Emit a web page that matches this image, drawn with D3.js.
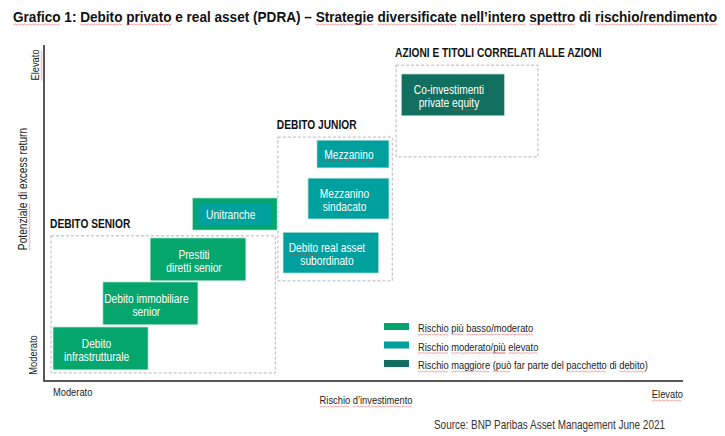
<!DOCTYPE html>
<html>
<head>
<meta charset="utf-8">
<script src="https://cdn.jsdelivr.net/npm/d3@7"></script>
<style>
  body { margin: 0; background: #fff; }
  svg { display: block; }
  text { font-family: "Liberation Sans Narrow", "Arial Narrow", "Liberation Sans", Arial, sans-serif; }
</style>
</head>
<body>
<svg id="chart" width="725" height="436"></svg>
<script>
"use strict";

const width = 725
const height = 436
// the original uses a narrow face, so plain Arial-like text is squeezed sideways
const narrow = 0.85

// risk (x) and excess return (y) on a 0-100 scale
const categories = ["low", "mid", "high"]
const categoryColors = ["#05a66d", "#00a09e", "#126f5f"]
const legendLabels = [
    "Rischio più basso/moderato",
    "Rischio moderato/più elevato",
    "Rischio maggiore (può far parte del pacchetto di debito)"
]

const boxNames = [
    ["Debito", "infrastrutturale"],
    ["Debito immobiliare", "senior"],
    ["Prestiti", "diretti senior"],
    ["Unitranche"],
    ["Mezzanino"],
    ["Mezzanino", "sindacato"],
    ["Debito real asset", "subordinato"],
    ["Co-investimenti", "private equity"]
]
const boxCategory = ["low", "low", "low", "low", "mid", "mid", "mid", "high"]
const boxRisk = [[1.4, 16.3], [9.2, 24.1], [16.6, 31.6], [23.2, 36.5], [42.7, 54.0], [41.3, 54.0], [37.4, 52.4], [55.9, 72.1]]
const boxReturn = [[3.3, 16.1], [16.7, 29.5], [29.8, 42.6], [44.9, 54.5], [63.4, 71.7], [48.2, 60.4], [32.1, 44.3], [78.9, 91.4]]

const groupNames = ["DEBITO SENIOR", "DEBITO JUNIOR", "AZIONI E TITOLI CORRELATI ALLE AZIONI"]
const groupRisk = [[1.1, 36.2], [36.6, 54.5], [55.1, 77.3]]
const groupReturn = [[2.4, 43.2], [29.8, 72.6], [66.7, 94.0]]

const axisEnds = ["Moderato", "Elevato"]

// words carrying the spell-check squiggle in the original screenshot
const flaggedWords = ["Grafico", "Debito", "privato", "Strategie", "diversificate", "nell’intero", "spettro",
    "rischio/rendimento", "infrastrutturale", "immobiliare", "Prestiti", "diretti", "Mezzanino", "sindacato",
    "subordinato", "investimenti", "private", "equity", "Rischio", "più", "basso/moderato", "moderato/più",
    "elevato", "maggiore", "(può", "pacchetto", "debito)", "Potenziale", "Elevato", "d’investimento"]

const svg = d3.select("#chart")

const x = d3.scaleLinear().domain([0, 100]).range([44, 683])
const y = d3.scaleLinear().domain([0, 100]).range([381, 45])
const color = d3.scaleOrdinal().domain(categories).range(categoryColors)

// text squeezed horizontally around its anchor
function label(parent, txt, px, py, opts = {}) {
    const k = opts.k || narrow
    const rot = opts.rotate ? " rotate(-90)" : ""
    return parent.append("text")
        .attr("transform", `translate(${px},${py})${rot} scale(${k},1)`)
        .attr("text-anchor", opts.anchor || "start")
        .attr("font-size", opts.size || 11)
        .attr("font-weight", opts.bold ? "bold" : null)
        .attr("fill", opts.fill || "#222")
        .text(txt)
}

// title, fitted to the width it takes in the original
const title = label(svg, "Grafico 1: Debito privato e real asset (PDRA) – Strategie diversificate nell’intero spettro di rischio/rendimento",
    13, 22, { size: 15.5, bold: true, fill: "#111", k: 1 })
const titleW = title.node().getComputedTextLength()
title.attr("transform", `translate(13,22) scale(${705 / titleW},1)`)

// group frames
const groups = groupNames.map((name, i) => ({ name, risk: groupRisk[i], ret: groupReturn[i] }))

svg.append("g").selectAll("rect")
    .data(groups)
    .join("rect")
    .attr("x", d => x(d.risk[0]))
    .attr("y", d => y(d.ret[1]))
    .attr("width", d => x(d.risk[1]) - x(d.risk[0]))
    .attr("height", d => y(d.ret[0]) - y(d.ret[1]))
    .attr("fill", "none")
    .attr("stroke", "#a9aeb3")
    .attr("stroke-width", 0.9)
    .attr("stroke-dasharray", "3,2")

const groupLabels = svg.append("g")
groups.forEach(d => {
    label(groupLabels, d.name, x(d.risk[0]) - 1, y(d.ret[1]) - 8, { size: 12, bold: true, fill: "#111" })
})

// boxes
const boxes = boxNames.map((lines, i) => ({
    lines, cat: boxCategory[i], risk: boxRisk[i], ret: boxReturn[i]
}))

const box = svg.append("g").selectAll("g")
    .data(boxes)
    .join("g")

box.append("rect")
    .attr("x", d => x(d.risk[0]))
    .attr("y", d => y(d.ret[1]))
    .attr("width", d => x(d.risk[1]) - x(d.risk[0]))
    .attr("height", d => y(d.ret[0]) - y(d.ret[1]))
    .attr("fill", d => color(d.cat))
    .attr("stroke", "#e3f1ec")
    .attr("stroke-width", 0.8)

// Unitranche: green frame around a teal core
box.filter(d => d.lines[0] === "Unitranche")
    .append("rect")
    .attr("x", d => x(d.risk[0]) + 5)
    .attr("y", d => y(d.ret[1]) + 5)
    .attr("width", d => x(d.risk[1]) - x(d.risk[0]) - 10)
    .attr("height", d => y(d.ret[0]) - y(d.ret[1]) - 10)
    .attr("fill", color("mid"))

box.each(function(d) {
    const cx = (x(d.risk[0]) + x(d.risk[1])) / 2 - 4
    const cy = (y(d.ret[0]) + y(d.ret[1])) / 2
    const n = d.lines.length
    const t = label(d3.select(this), null, cx, cy, { anchor: "middle", size: 12, fill: "#fff" })
    d.lines.forEach((line, k) => {
        t.append("tspan")
            .attr("x", 0)
            .attr("y", (n === 1 ? 4.5 : 6) + (k - (n - 1) / 2) * 13)
            .text(line)
    })
})

// axes
svg.append("path")
    .attr("d", d3.line()([[x(0), y(100)], [x(0), y(0)], [x(100), y(0)]]))
    .attr("fill", "none")
    .attr("stroke", "#222")
    .attr("stroke-width", 1.5)

label(svg, axisEnds[0], x(1.4), 396)
label(svg, axisEnds[1], x(100), 398, { anchor: "end" })
label(svg, "Rischio d’investimento", 366, 404, { anchor: "middle" })

label(svg, axisEnds[1], 39, 65, { rotate: true, anchor: "middle" })
label(svg, "Potenziale di excess return", 27, 189, { rotate: true, anchor: "middle", size: 12 })
label(svg, axisEnds[0], 37, 355, { rotate: true, anchor: "middle" })

// legend
const legend = svg.append("g").selectAll("g")
    .data(legendLabels)
    .join("g")
    .attr("transform", (d, i) => `translate(384,${323 + i * 18.5})`)

legend.append("rect")
    .attr("width", 25).attr("height", 7)
    .attr("fill", (d, i) => categoryColors[i])
legend.each(function(d) {
    label(d3.select(this), d, 34, 9)
})

// source
label(svg, "Source: BNP Paribas Asset Management June 2021", 665, 429, { anchor: "end", size: 12, fill: "#333", k: 0.83 })

// red squiggles under the flagged words
const isLetter = c => c !== undefined && /\p{L}/u.test(c)
svg.selectAll("text").each(function() {
    const node = this
    const content = node.textContent
    const marks = []
    flaggedWords.forEach(w => {
        let i = content.indexOf(w)
        while (i >= 0) {
            if (!isLetter(content[i - 1]) && !isLetter(content[i + w.length])) marks.push([i, i + w.length - 1])
            i = content.indexOf(w, i + 1)
        }
    })
    if (!marks.length) return
    const g = d3.select(node.parentNode).append("g").attr("transform", node.getAttribute("transform"))
    marks.forEach(([a, b]) => {
        const start = node.getStartPositionOfChar(a)
        const end = node.getEndPositionOfChar(b)
        const base = start.y + 2.3
        const pts = []
        for (let px = start.x, s = 0; px <= end.x; px += 1.6, s++) pts.push([px, base + (s % 2 ? 0.7 : -0.3)])
        g.append("path")
            .attr("d", d3.line()(pts))
            .attr("fill", "none")
            .attr("stroke", "#e2413e")
            .attr("stroke-width", 0.6)
            .attr("opacity", 0.85)
    })
})
</script>
</body>
</html>
